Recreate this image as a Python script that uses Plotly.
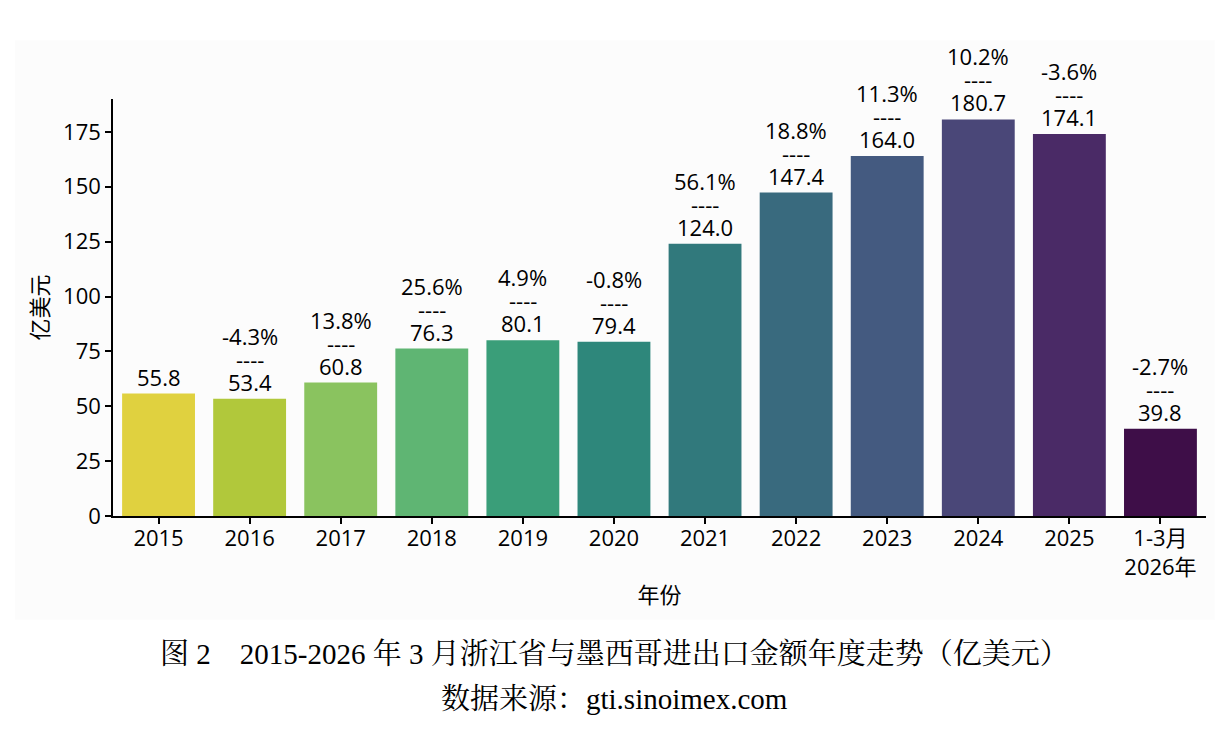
import plotly.graph_objects as go

categories = ["2015", "2016", "2017", "2018", "2019", "2020", "2021", "2022", "2023", "2024", "2025", "1-3月<br>2026年"]
values = [55.8, 53.4, 60.8, 76.3, 80.1, 79.4, 124.0, 147.4, 164.0, 180.7, 174.1, 39.8]
growth = ["", "-4.3%", "13.8%", "25.6%", "4.9%", "-0.8%", "56.1%", "18.8%", "11.3%", "10.2%", "-3.6%", "-2.7%"]
colors = ["#e0d13f", "#b1c83b", "#8ac35f", "#5fb573", "#3a9e79", "#2e877b",
          "#31797c", "#396a7e", "#445a80", "#4a4778", "#4a2a66", "#3e0e48"]
y_ticks = [0, 25, 50, 75, 100, 125, 150, 175]

FONT = "Open Sans, Noto Sans CJK SC, sans-serif"
SERIF = "Liberation Serif, Noto Serif CJK SC, Noto Sans CJK SC, serif"

fig = go.Figure()
fig.add_trace(go.Bar(
    x=list(range(len(categories))), y=values,
    marker=dict(color=colors, line=dict(width=0)),
    width=0.8, cliponaxis=False, hoverinfo="skip",
))

annotations = []
for i, (v, g) in enumerate(zip(values, growth)):
    annotations.append(dict(x=i, y=v, xref="x", yref="y", text=f"{v:.1f}",
                            showarrow=False, yanchor="bottom", yshift=0,
                            font=dict(size=22, color="black", family=FONT)))
    if g:
        annotations.append(dict(x=i, y=v, xref="x", yref="y", text="----",
                                showarrow=False, yanchor="bottom", yshift=23,
                                font=dict(size=22, color="black", family=FONT)))
        annotations.append(dict(x=i, y=v, xref="x", yref="y", text=g,
                                showarrow=False, yanchor="bottom", yshift=46,
                                font=dict(size=22, color="black", family=FONT)))

annotations.append(dict(x=0.459, y=-0.33, xref="paper", yref="paper",
                        text="图 2　2015-2026 年 3 月浙江省与墨西哥进出口金额年度走势（亿美元）",
                        showarrow=False, xanchor="center", yanchor="middle",
                        font=dict(size=29, color="black", family=SERIF)))
annotations.append(dict(x=0.459, y=-0.44, xref="paper", yref="paper",
                        text="数据来源：gti.sinoimex.com",
                        showarrow=False, xanchor="center", yanchor="middle",
                        font=dict(size=29, color="black", family=SERIF)))

fig.update_layout(
    width=1230, height=737,
    margin=dict(l=113, r=24, t=99, b=221),
    paper_bgcolor="white", plot_bgcolor="rgba(0,0,0,0)",
    showlegend=False,
    font=dict(family=FONT, size=22, color="black"),
    annotations=annotations,
    shapes=[dict(type="rect", xref="paper", yref="paper",
                 x0=-0.0897, x1=1.008, y0=-0.249, y1=1.141,
                 fillcolor="#fcfcfc", line=dict(width=0), layer="below")],
    xaxis=dict(
        tickmode="array", tickvals=list(range(len(categories))), ticktext=categories,
        range=[-0.5, 11.5], showline=True, linecolor="black", linewidth=1.5,
        ticks="outside", ticklen=6, tickwidth=1.5, tickcolor="black",
        ticklabelstandoff=-4,
        showgrid=False, zeroline=False,
        tickfont=dict(size=22, family=FONT),
        title=dict(text="年份", font=dict(size=22, family=FONT), standoff=8),
    ),
    yaxis=dict(
        range=[0, 190], tickmode="array", tickvals=y_ticks,
        showline=True, linecolor="black", linewidth=1.5,
        ticks="outside", ticklen=6, tickwidth=1.5, tickcolor="black",
        showgrid=False, zeroline=False,
        tickfont=dict(size=22, family=FONT),
        title=dict(text="亿美元", font=dict(size=22, family=FONT), standoff=8),
    ),
)

fig.write_html("out.html")
